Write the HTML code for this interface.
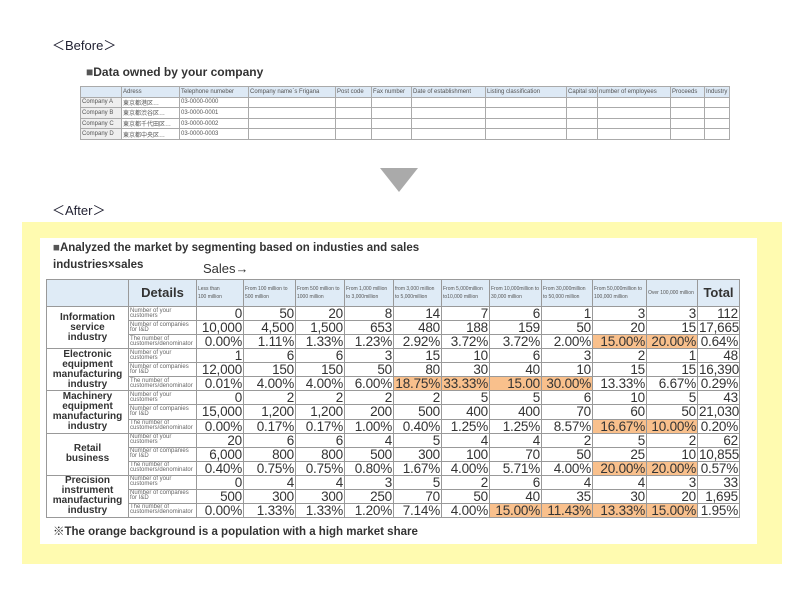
<!DOCTYPE html>
<html><head><meta charset="utf-8"><style>
*{margin:0;padding:0;box-sizing:border-box}
body{width:800px;height:600px;background:#fff;position:relative;font-family:"Liberation Sans","Noto Sans CJK JP",sans-serif;color:#333;overflow:hidden}
.a{position:absolute;white-space:nowrap}
table{border-collapse:collapse;table-layout:fixed;position:absolute}
.b td{border:1px solid #aaa;font-size:6px;height:10.6px;padding:0 1px;color:#555;overflow:hidden;white-space:nowrap}
.b tr:first-child td{background:#dde9f5}
.b td:first-child{background:#eee}
.t td{border:1px solid #999;padding:0 1px;overflow:hidden;white-space:nowrap}
.t .h td{background:#dfebf6;font-size:5px;line-height:8px;color:#555;vertical-align:middle;height:27px;white-space:normal}
.t td.n{font-size:13.5px;line-height:13px;text-align:right;height:14.07px;color:#333;letter-spacing:-0.2px}
.t td.d{font-size:6px;line-height:5px;color:#666;white-space:normal}
.t td.g{font-size:10px;font-weight:600;line-height:10px;text-align:center;color:#333;white-space:nowrap}
.t td.o{background:#f9c08c}
</style></head><body>
<div class="a" style="left:52px;top:35px;font-size:13px;color:#223">＜Before＞</div>
<div class="a" style="left:86px;top:65px;font-size:12px;font-weight:600;color:#333"><span style="color:#555">■</span>Data owned by your company</div>
<table class="b" style="left:80px;top:86px;width:649px">
<colgroup><col style="width:41px"><col style="width:58px"><col style="width:69px"><col style="width:87px"><col style="width:36px"><col style="width:40px"><col style="width:74px"><col style="width:81px"><col style="width:31px"><col style="width:73px"><col style="width:34px"><col style="width:25px"></colgroup>
<tr><td></td><td>Adress</td><td>Telephone numeber</td><td>Company name`s Frigana</td><td>Post code</td><td>Fax number</td><td>Date of establishment</td><td>Listing classification</td><td>Capital stock</td><td>number of employees</td><td>Proceeds</td><td>Industry</td></tr>
<tr><td>Company A</td><td>東京都港区…</td><td>03-0000-0000</td><td></td><td></td><td></td><td></td><td></td><td></td><td></td><td></td><td></td></tr>
<tr><td>Company B</td><td>東京都渋谷区…</td><td>03-0000-0001</td><td></td><td></td><td></td><td></td><td></td><td></td><td></td><td></td><td></td></tr>
<tr><td>Company C</td><td>東京都千代田区…</td><td>03-0000-0002</td><td></td><td></td><td></td><td></td><td></td><td></td><td></td><td></td><td></td></tr>
<tr><td>Company D</td><td>東京都中央区…</td><td>03-0000-0003</td><td></td><td></td><td></td><td></td><td></td><td></td><td></td><td></td><td></td></tr>
</table>
<div class="a" style="left:380px;top:168px;width:0;height:0;border-left:19px solid transparent;border-right:19px solid transparent;border-top:24px solid #aaa"></div>
<div class="a" style="left:52px;top:200px;font-size:13px;color:#223">＜After＞</div>
<div class="a" style="left:22px;top:222px;width:760px;height:342px;background:#fffbb0"></div>
<div class="a" style="left:40px;top:238px;width:717px;height:306px;background:#fff"></div>
<div class="a" style="left:53px;top:242px;font-size:11.5px;font-weight:bold;color:#333"><span style="color:#555">■</span>Analyzed the market by segmenting based on industies and sales</div>
<div class="a" style="left:53px;top:259px;font-size:11.5px;font-weight:bold;color:#333">industries×sales</div>
<div class="a" style="left:203px;top:261px;font-size:13px;color:#333">Sales→</div>
<table class="t" style="left:46px;top:279px;width:693px">
<colgroup><col style="width:82px"><col style="width:68px"><col style="width:47px"><col style="width:52px"><col style="width:49px"><col style="width:49px"><col style="width:48px"><col style="width:48px"><col style="width:52px"><col style="width:51px"><col style="width:54px"><col style="width:51px"><col style="width:42px"></colgroup>
<tr class="h"><td></td><td style="font-size:13px;font-weight:bold;text-align:center;line-height:14px;color:#333">Details</td><td>Less than<br>100 million</td><td>From 100 million to 500 million</td><td>From 500 million to 1000 million</td><td>From 1,000 million to 3,000million</td><td>from 3,000 million to 5,000million</td><td>From 5,000million to10,000 million</td><td>From 10,000million to 30,000 million</td><td>From 30,000million to 50,000 million</td><td>From 50,000million to 100,000 million</td><td>Over 100,000 million</td><td style="font-size:13px;font-weight:bold;text-align:center;line-height:14px;color:#333">Total</td></tr>
<tr><td class="g" rowspan="3">Information<br>service<br>industry</td><td class="d">Number of your customers</td><td class="n">0</td><td class="n">50</td><td class="n">20</td><td class="n">8</td><td class="n">14</td><td class="n">7</td><td class="n">6</td><td class="n">1</td><td class="n">3</td><td class="n">3</td><td class="n">112</td></tr>
<tr><td class="d">Number of companies for I&amp;D</td><td class="n">10,000</td><td class="n">4,500</td><td class="n">1,500</td><td class="n">653</td><td class="n">480</td><td class="n">188</td><td class="n">159</td><td class="n">50</td><td class="n">20</td><td class="n">15</td><td class="n">17,665</td></tr>
<tr><td class="d">The number of customers/denominator</td><td class="n">0.00%</td><td class="n">1.11%</td><td class="n">1.33%</td><td class="n">1.23%</td><td class="n">2.92%</td><td class="n">3.72%</td><td class="n">3.72%</td><td class="n">2.00%</td><td class="n o">15.00%</td><td class="n o">20.00%</td><td class="n">0.64%</td></tr>
<tr><td class="g" rowspan="3">Electronic<br>equipment<br>manufacturing<br>industry</td><td class="d">Number of your customers</td><td class="n">1</td><td class="n">6</td><td class="n">6</td><td class="n">3</td><td class="n">15</td><td class="n">10</td><td class="n">6</td><td class="n">3</td><td class="n">2</td><td class="n">1</td><td class="n">48</td></tr>
<tr><td class="d">Number of companies for I&amp;D</td><td class="n">12,000</td><td class="n">150</td><td class="n">150</td><td class="n">50</td><td class="n">80</td><td class="n">30</td><td class="n">40</td><td class="n">10</td><td class="n">15</td><td class="n">15</td><td class="n">16,390</td></tr>
<tr><td class="d">The number of customers/denominator</td><td class="n">0.01%</td><td class="n">4.00%</td><td class="n">4.00%</td><td class="n">6.00%</td><td class="n o">18.75%</td><td class="n o">33.33%</td><td class="n o">15.00</td><td class="n o">30.00%</td><td class="n">13.33%</td><td class="n">6.67%</td><td class="n">0.29%</td></tr>
<tr><td class="g" rowspan="3">Machinery<br>equipment<br>manufacturing<br>industry</td><td class="d">Number of your customers</td><td class="n">0</td><td class="n">2</td><td class="n">2</td><td class="n">2</td><td class="n">2</td><td class="n">5</td><td class="n">5</td><td class="n">6</td><td class="n">10</td><td class="n">5</td><td class="n">43</td></tr>
<tr><td class="d">Number of companies for I&amp;D</td><td class="n">15,000</td><td class="n">1,200</td><td class="n">1,200</td><td class="n">200</td><td class="n">500</td><td class="n">400</td><td class="n">400</td><td class="n">70</td><td class="n">60</td><td class="n">50</td><td class="n">21,030</td></tr>
<tr><td class="d">The number of customers/denominator</td><td class="n">0.00%</td><td class="n">0.17%</td><td class="n">0.17%</td><td class="n">1.00%</td><td class="n">0.40%</td><td class="n">1.25%</td><td class="n">1.25%</td><td class="n">8.57%</td><td class="n o">16.67%</td><td class="n o">10.00%</td><td class="n">0.20%</td></tr>
<tr><td class="g" rowspan="3">Retail<br>business</td><td class="d">Number of your customers</td><td class="n">20</td><td class="n">6</td><td class="n">6</td><td class="n">4</td><td class="n">5</td><td class="n">4</td><td class="n">4</td><td class="n">2</td><td class="n">5</td><td class="n">2</td><td class="n">62</td></tr>
<tr><td class="d">Number of companies for I&amp;D</td><td class="n">6,000</td><td class="n">800</td><td class="n">800</td><td class="n">500</td><td class="n">300</td><td class="n">100</td><td class="n">70</td><td class="n">50</td><td class="n">25</td><td class="n">10</td><td class="n">10,855</td></tr>
<tr><td class="d">The number of customers/denominator</td><td class="n">0.40%</td><td class="n">0.75%</td><td class="n">0.75%</td><td class="n">0.80%</td><td class="n">1.67%</td><td class="n">4.00%</td><td class="n">5.71%</td><td class="n">4.00%</td><td class="n o">20.00%</td><td class="n o">20.00%</td><td class="n">0.57%</td></tr>
<tr><td class="g" rowspan="3">Precision<br>instrument<br>manufacturing<br>industry</td><td class="d">Number of your customers</td><td class="n">0</td><td class="n">4</td><td class="n">4</td><td class="n">3</td><td class="n">5</td><td class="n">2</td><td class="n">6</td><td class="n">4</td><td class="n">4</td><td class="n">3</td><td class="n">33</td></tr>
<tr><td class="d">Number of companies for I&amp;D</td><td class="n">500</td><td class="n">300</td><td class="n">300</td><td class="n">250</td><td class="n">70</td><td class="n">50</td><td class="n">40</td><td class="n">35</td><td class="n">30</td><td class="n">20</td><td class="n">1,695</td></tr>
<tr><td class="d">The number of customers/denominator</td><td class="n">0.00%</td><td class="n">1.33%</td><td class="n">1.33%</td><td class="n">1.20%</td><td class="n">7.14%</td><td class="n">4.00%</td><td class="n o">15.00%</td><td class="n o">11.43%</td><td class="n o">13.33%</td><td class="n o">15.00%</td><td class="n">1.95%</td></tr>
</table>
<div class="a" style="left:53px;top:523px;font-size:11.5px;font-weight:bold;color:#333">※The orange background is a population with a high market share</div>
</body></html>
